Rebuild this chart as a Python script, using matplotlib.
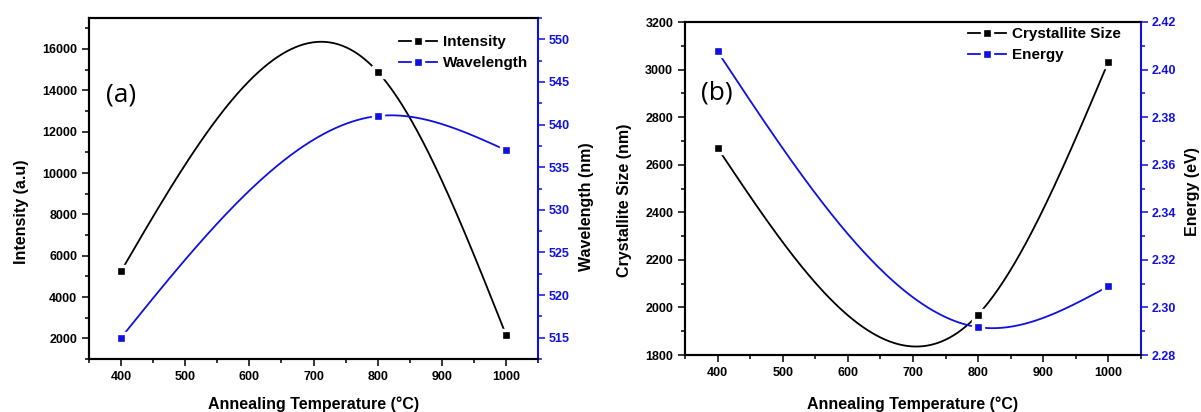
import numpy as np
import matplotlib
matplotlib.use('Agg')
import matplotlib.pyplot as plt
from matplotlib.ticker import MultipleLocator

# ---- data ----
temps = [400, 800, 1000]
intensity = [5250, 14900, 2180]
wavelength = [515, 541, 537]
cryst_size = [2670, 1970, 3033]
energy = [2.4076, 2.2917, 2.3089]

xticks = [400, 500, 600, 700, 800, 900, 1000]

plt.rcParams['font.family'] = ['Liberation Sans', 'DejaVu Sans']
plt.rcParams['font.weight'] = 'bold'

BLUE = '#1010E0'


def natural_spline(x, y, xf):
    x = np.asarray(x, float)
    y = np.asarray(y, float)
    n = len(x)
    h = np.diff(x)
    A = np.zeros((n, n))
    r = np.zeros(n)
    A[0, 0] = A[-1, -1] = 1
    for i in range(1, n - 1):
        A[i, i - 1] = h[i - 1]
        A[i, i] = 2 * (h[i - 1] + h[i])
        A[i, i + 1] = h[i]
        r[i] = 6 * ((y[i + 1] - y[i]) / h[i] - (y[i] - y[i - 1]) / h[i - 1])
    M = np.linalg.solve(A, r)
    idx = np.clip(np.searchsorted(x, xf, side='right') - 1, 0, n - 2)
    x0 = x[idx]
    x1 = x[idx + 1]
    hh = h[idx]
    a = x1 - xf
    b = xf - x0
    return (M[idx] * a ** 3 / (6 * hh) + M[idx + 1] * b ** 3 / (6 * hh)
            + (y[idx] / hh - M[idx] * hh / 6) * a
            + (y[idx + 1] / hh - M[idx + 1] * hh / 6) * b)


xf = np.arange(temps[0], temps[-1] + 1, 1.0)
mark_idx = [int(np.argmin(np.abs(xf - t))) for t in temps]

W, H = 1201, 412
fig = plt.figure(figsize=(W / 100, H / 100), dpi=100)


def px_axes(l, t, r, b):
    return fig.add_axes([l / W, 1 - b / H, (r - l) / W, (b - t) / H])


def style_axes(ax, axr, ymaj, ymin, yrmaj, yrmin):
    for a in (ax, axr):
        for s in a.spines.values():
            s.set_linewidth(1.5)
    ax.spines['right'].set_visible(False)
    axr.spines['right'].set_color(BLUE)
    ax.set_xlim(350, 1050)
    ax.set_xticks(xticks)
    ax.xaxis.set_minor_locator(MultipleLocator(50))
    ax.yaxis.set_major_locator(MultipleLocator(ymaj))
    ax.yaxis.set_minor_locator(MultipleLocator(ymin))
    axr.yaxis.set_major_locator(MultipleLocator(yrmaj))
    axr.yaxis.set_minor_locator(MultipleLocator(yrmin))
    ax.tick_params(axis='both', which='major', direction='out', length=5,
                   width=1.1, labelsize=9, pad=3.5)
    ax.tick_params(axis='both', which='minor', direction='out', length=3,
                   width=1.1)
    ax.tick_params(axis='x', top=False, which='both')
    axr.tick_params(axis='y', which='major', direction='out', length=5,
                    width=1.1, labelsize=9, pad=3, colors=BLUE)
    axr.tick_params(axis='y', which='minor', direction='out', length=3,
                    width=1.1, colors=BLUE)


def draw(ax, y, color, label):
    yf = natural_spline(temps, y, xf)
    ln, = ax.plot(xf, yf, color=color, lw=1.3, marker='s', markevery=mark_idx,
                  markersize=7.5, markerfacecolor=color, markeredgecolor='white',
                  markeredgewidth=2.4, label=label, zorder=3)
    return ln


# ---------------- panel (a) ----------------
axa = px_axes(89, 18, 538, 359)
axar = axa.twinx()
axa.set_ylim(1000, 17500)
axar.set_ylim(512.5, 552.5)
l1 = draw(axa, intensity, 'black', 'Intensity')
l2 = draw(axar, wavelength, BLUE, 'Wavelength')
style_axes(axa, axar, 2000, 1000, 5, 2.5)

axa.set_xlabel('Annealing Temperature (°C)', fontsize=11.5, fontweight='bold', va='center')
axa.xaxis.set_label_coords(0.5, (359 - 404) / 341)
axa.set_ylabel('Intensity (a.u)', fontsize=11.5, fontweight='bold', va='center')
axa.yaxis.set_label_coords((22 - 89) / 449, (359 - 212) / 341)
axar.set_ylabel('Wavelength (nm)', fontsize=11.5, fontweight='bold', va='center', color='black')
axar.yaxis.set_label_coords((586 - 89) / 449, (359 - 207) / 341)

fig.legend([l1, l2], ['Intensity', 'Wavelength'], loc='upper left',
           bbox_to_anchor=(399 / W, 1 - 35 / H), frameon=False, borderpad=0,
           borderaxespad=0, handlelength=2.5, handletextpad=0.35,
           labelspacing=0.45, prop={'size': 11, 'weight': 'bold'})
fig.text(121 / W, 1 - 94.5 / H, '(a)', family=['Open Sans', 'DejaVu Sans'],
         fontweight='normal', fontsize=19, ha='center', va='center')

# ---------------- panel (b) ----------------
axb = px_axes(685, 22, 1141, 355)
axbr = axb.twinx()
axb.set_ylim(1800, 3200)
axbr.set_ylim(2.28, 2.42)
l3 = draw(axb, cryst_size, 'black', 'Crystallite Size')
l4 = draw(axbr, energy, BLUE, 'Energy')
style_axes(axb, axbr, 200, 100, 0.02, 0.01)
axbr.yaxis.set_major_formatter(matplotlib.ticker.FormatStrFormatter('%.2f'))

axb.set_xlabel('Annealing Temperature (°C)', fontsize=11.5, fontweight='bold', va='center')
axb.xaxis.set_label_coords(0.5, (355 - 404) / 333)
axb.set_ylabel('Crystallite Size (nm)', fontsize=11.5, fontweight='bold', va='center')
axb.yaxis.set_label_coords((624 - 685) / 456, (355 - 200) / 333)
axbr.set_ylabel('Energy (eV)', fontsize=11.5, fontweight='bold', va='center', color='black')
axbr.yaxis.set_label_coords((1192 - 685) / 456, (355 - 192) / 333)

fig.legend([l3, l4], ['Crystallite Size', 'Energy'], loc='upper left',
           bbox_to_anchor=(968 / W, 1 - 27 / H), frameon=False, borderpad=0,
           borderaxespad=0, handlelength=2.5, handletextpad=0.35,
           labelspacing=0.45, prop={'size': 11, 'weight': 'bold'})
fig.text(717 / W, 1 - 93 / H, '(b)', family=['Open Sans', 'DejaVu Sans'],
         fontweight='normal', fontsize=19, ha='center', va='center')

for a in (axa, axar, axb, axbr):
    for lab in a.get_xticklabels() + a.get_yticklabels():
        lab.set_fontweight('bold')

fig.savefig('out.png', dpi=100)
